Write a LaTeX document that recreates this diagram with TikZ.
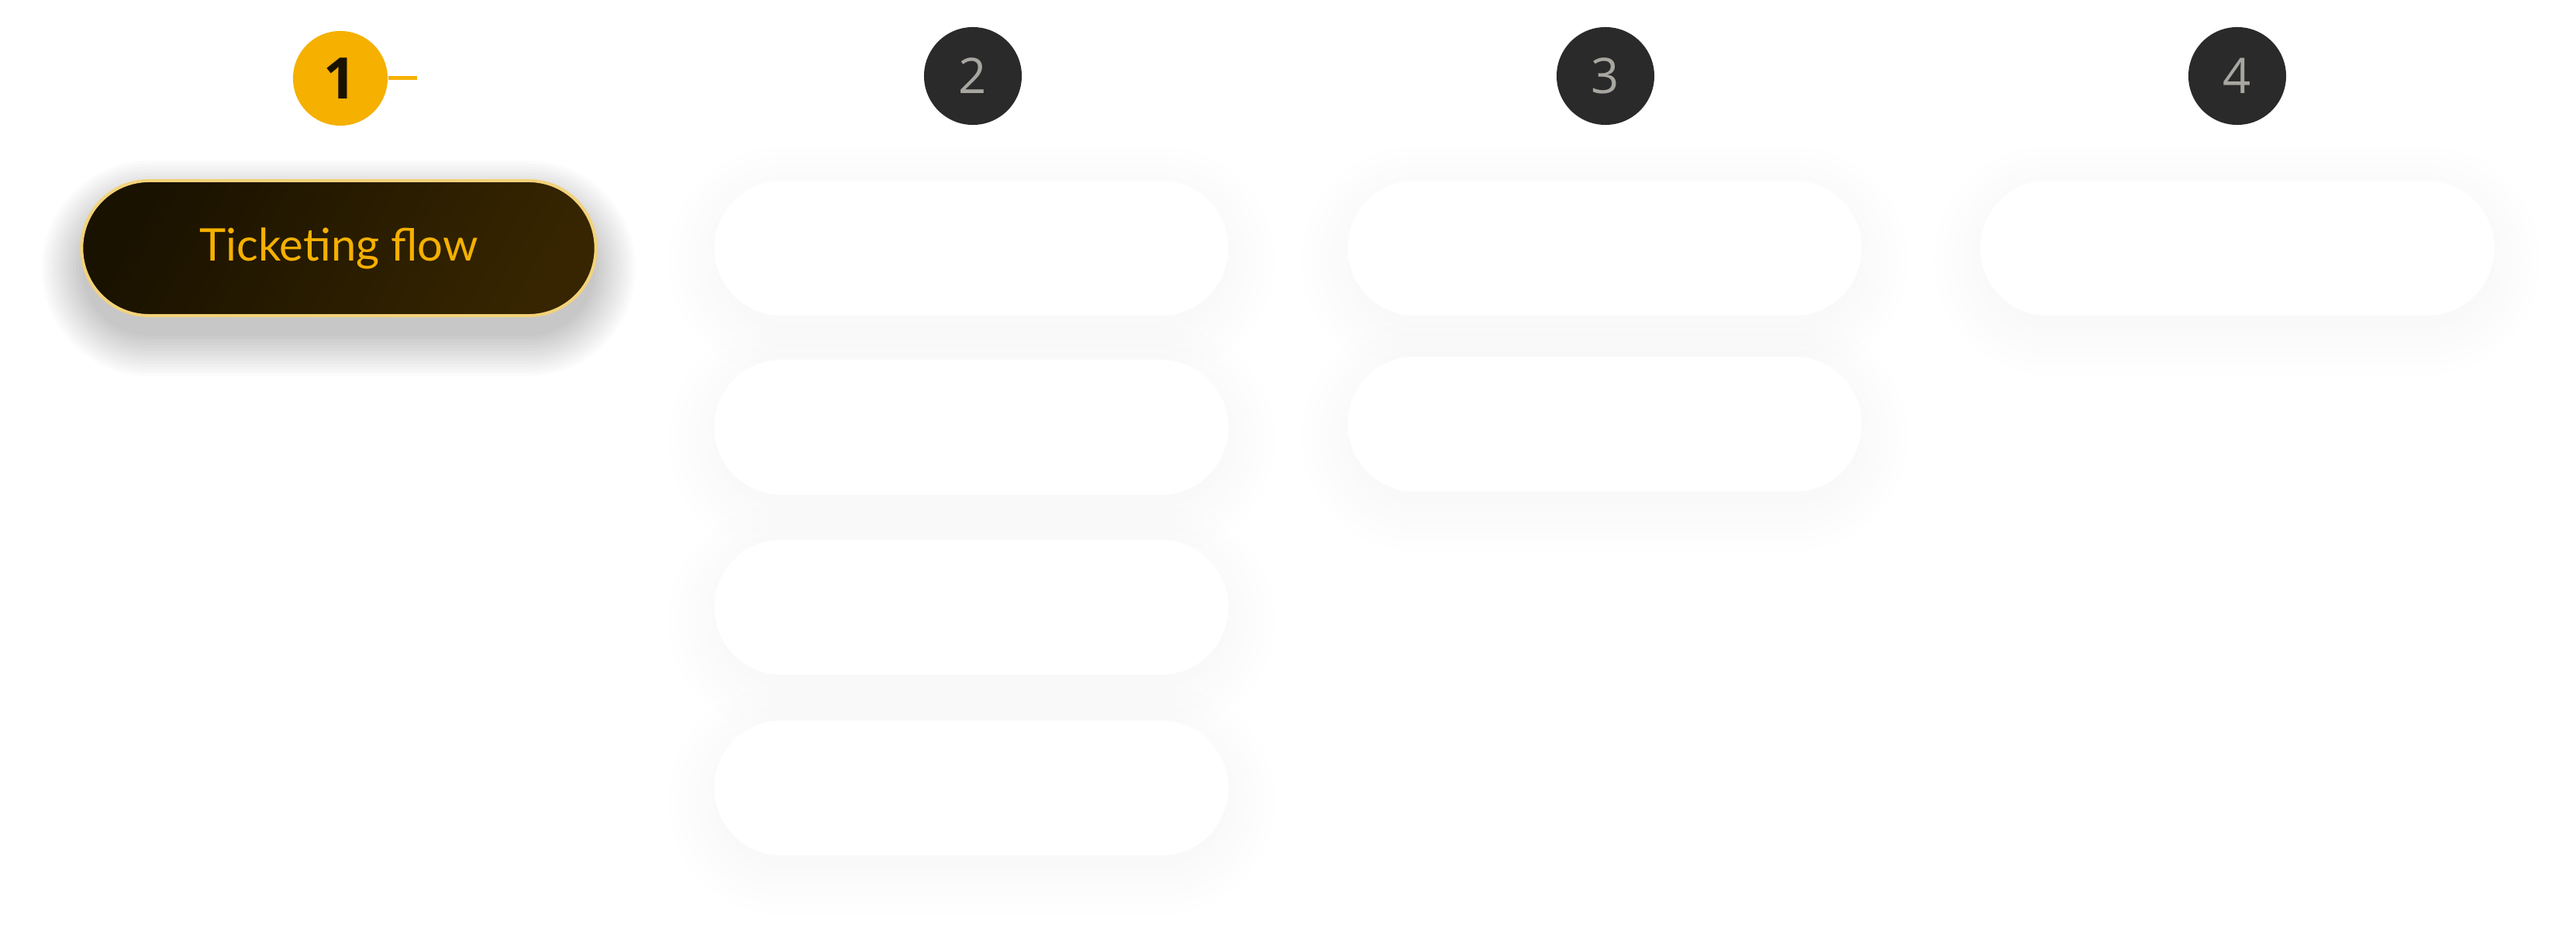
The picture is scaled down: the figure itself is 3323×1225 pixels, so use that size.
\documentclass[tikz,border=0pt]{standalone}
\usepackage{fontspec}
\setmainfont{Lato}
\newfontfamily\digitfont{Open Sans}
\begin{document}
\begin{tikzpicture}[x=0.01cm,y=-0.01cm,
  pill/.style={rectangle, minimum width=6.63cm, minimum height=1.74cm, rounded corners=0.87cm, inner sep=0pt},
  whitepill/.style={pill, fill=white},
  numdark/.style={circle, minimum size=1.26cm, inner sep=0pt, fill=numbg, text=numfg, font=\digitfont\fontsize{18}{18}\selectfont},
  numactive/.style={circle, minimum size=1.22cm, inner sep=0pt, fill=gold, text=ink, font=\digitfont\bfseries\fontsize{21}{21}\selectfont},
  link/.style={draw=gold, line width=0.05cm}
]
\definecolor{gold}{HTML}{F5B000}
\definecolor{ink}{HTML}{1A1200}
\definecolor{numbg}{HTML}{2A2A2A}
\definecolor{numfg}{HTML}{A8A6A0}
\definecolor{rim}{HTML}{F3D27A}
\definecolor{darkA}{HTML}{1A1200}
\definecolor{darkB}{HTML}{362500}
\useasboundingbox (0,0) rectangle (3323,1225);
\fill[white] (0,0) rectangle (3323,1225);
\newcommand{\pillshadow}[6]{%
  \foreach \e in {0,#6,...,#5}{%
    \pgfmathsetmacro{\rr}{(87+\e)/100}%
    \fill[black, fill opacity=#3, rounded corners=\rr cm] ({#1-331-\e},{#2-87-\e+#4}) rectangle ({#1+331+\e},{#2+87+\e+#4});
  }%
}
% shadows
\pillshadow{437}{320}{0.014}{26}{52}{4}
\foreach \cy in {320,551,783,1016}{\pillshadow{1253}{\cy}{0.004}{16}{60}{12}}
\foreach \cy in {320,547}{\pillshadow{2070}{\cy}{0.004}{16}{60}{12}}
\pillshadow{2886}{320}{0.004}{16}{60}{12}
% column 1
\node[numactive] (n1) at (439,101) {1};
\coordinate (t1) at (538,101);
\draw[link] (n1.east) -- (t1);
\node[pill, draw=rim, line width=0.04cm, left color=darkA, right color=darkB, shading angle=60,
  text=gold, font=\fontsize{16.5}{16.5}\selectfont] (b1) at (437,320) {Ticketing flow};
% column 2
\node[numdark] (n2) at (1255,98) {2};
\node[whitepill] (b21) at (1253,320) {};
\node[whitepill] (b22) at (1253,551) {};
\node[whitepill] (b23) at (1253,783) {};
\node[whitepill] (b24) at (1253,1016) {};
% column 3
\node[numdark] (n3) at (2071,98) {3};
\node[whitepill] (b31) at (2070,320) {};
\node[whitepill] (b32) at (2070,547) {};
% column 4
\node[numdark] (n4) at (2886,98) {4};
\node[whitepill] (b41) at (2886,320) {};
\end{tikzpicture}
\end{document}
